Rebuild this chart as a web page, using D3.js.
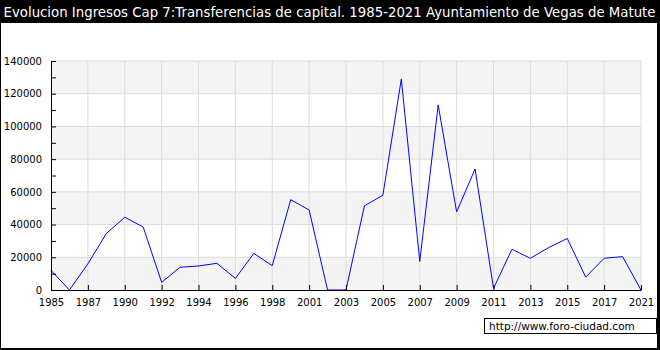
<!DOCTYPE html>
<html>
<head>
<meta charset="utf-8">
<script src="https://cdn.jsdelivr.net/npm/d3@7"></script>
<style>
  html, body { margin: 0; padding: 0; background: #000; }
  svg { display: block; font-family: "DejaVu Sans", Verdana, sans-serif; }
</style>
</head>
<body>
<svg id="chart" width="660" height="350"></svg>
<script>
      // years present in the source (a few years are missing, points are evenly spaced)
      const years = [1985, 1986, 1987, 1988, 1990, 1991, 1992, 1993, 1994, 1995, 1996, 1997, 1998, 1999, 2001, 2002, 2003,
        2004, 2005, 2006, 2007, 2008, 2009, 2010, 2011, 2012, 2013, 2014, 2015, 2016, 2017, 2018, 2021];
      const values = [12000, 0, 16000, 34500, 44500, 38500, 4700, 13900, 14700, 16300, 7100, 22400, 14900, 55200, 48900, 0, 0,
        51500, 57900, 129000, 17500, 113100, 47700, 74000, 1000, 24900, 19400, 26000, 31500, 7900, 19400, 20400, 0];
      const yTicks = [0, 20000, 40000, 60000, 80000, 100000, 120000, 140000];
      const yMinorTicks = d3.range(0, 140001, 10000);
      const titleText = "Evolucion Ingresos Cap 7:Transferencias de capital. 1985-2021 Ayuntamiento de Vegas de Matute";
      const sourceText = "http://www.foro-ciudad.com";

      const svg = d3.select("#chart");
      const margin = { top: 61, right: 19, bottom: 60, left: 51 };
      const W = 660, H = 350;
      const plotW = W - margin.left - margin.right;
      const plotH = H - margin.top - margin.bottom;

      // frame
      svg.append("rect").attr("width", W).attr("height", H).attr("fill", "#000");
      svg.append("rect").attr("x", 1).attr("y", 23).attr("width", 656).attr("height", 325).attr("fill", "#fff");
      svg.append("text")
        .attr("x", W / 2 - 0.5).attr("y", 17)
        .attr("text-anchor", "middle")
        .attr("fill", "#fff")
        .style("font-size", "13.3px")
        .text(titleText);

      const g = svg.append("g").attr("transform", `translate(${margin.left},${margin.top})`);
      const x = d3.scalePoint().domain(years).range([0, plotW]);
      const y = d3.scaleLinear().domain([0, 140000]).range([plotH, 0]);

      // alternating bands
      const bands = d3.pairs(yTicks);
      g.selectAll(".band")
        .data(bands)
        .join("rect")
        .attr("x", 0)
        .attr("y", (d) => y(d[1]))
        .attr("width", plotW)
        .attr("height", (d) => y(d[0]) - y(d[1]))
        .attr("fill", (_, i) => (i % 2 === 0 ? "#f4f4f4" : "#ffffff"));

      const labelYears = years.filter((_, i) => i % 2 === 0);

      // grid
      g.selectAll(".hgrid")
        .data(yTicks.slice(1))
        .join("line")
        .attr("x1", 0).attr("x2", plotW)
        .attr("y1", (d) => y(d)).attr("y2", (d) => y(d))
        .attr("stroke", "#dcdcdc");
      g.selectAll(".vgrid")
        .data(labelYears.slice(1))
        .join("line")
        .attr("x1", (d) => x(d)).attr("x2", (d) => x(d))
        .attr("y1", 0).attr("y2", plotH)
        .attr("stroke", "#dcdcdc");

      // line
      const line = d3.line()
        .x((d, i) => x(years[i]))
        .y((d) => y(d));
      g.append("path")
        .attr("d", line(values))
        .attr("fill", "none")
        .attr("stroke", "#0000ff")
        .attr("stroke-width", 1);

      // axes
      g.append("g")
        .attr("transform", `translate(0,${plotH})`)
        .call(d3.axisBottom(x).tickValues(labelYears).tickSize(-5).tickPadding(9).tickFormat(d3.format("d")))
        .call((axis) => axis.select(".domain").attr("stroke", "#000").attr("d", `M0.5,0.5H${plotW + 0.5}`))
        .call((axis) => axis.selectAll("line").attr("stroke", "#000"))
        .call((axis) => axis.selectAll("text").attr("fill", "#000").style("font-size", "10px").style("font-family", "DejaVu Sans"));

      g.append("g")
        .call(d3.axisLeft(y).tickValues(yMinorTicks).tickSize(-5).tickPadding(9)
          .tickFormat((v) => (yTicks.includes(v) ? String(v) : "")))
        .call((axis) => axis.select(".domain").attr("stroke", "#000").attr("d", `M0.5,0.5V${plotH + 0.5}`))
        .call((axis) => axis.selectAll("line").attr("stroke", "#000"))
        .call((axis) => axis.selectAll("text").attr("fill", "#000").style("font-size", "10px").style("font-family", "DejaVu Sans"));

      // source label
      svg.append("rect")
        .attr("x", 484.5).attr("y", 318.5).attr("width", 172).attr("height", 15)
        .attr("fill", "#fff").attr("stroke", "#000");
      svg.append("text")
        .attr("x", 489).attr("y", 330)
        .attr("fill", "#000")
        .style("font-size", "10.5px")
        .text(sourceText);
</script>
</body>
</html>
